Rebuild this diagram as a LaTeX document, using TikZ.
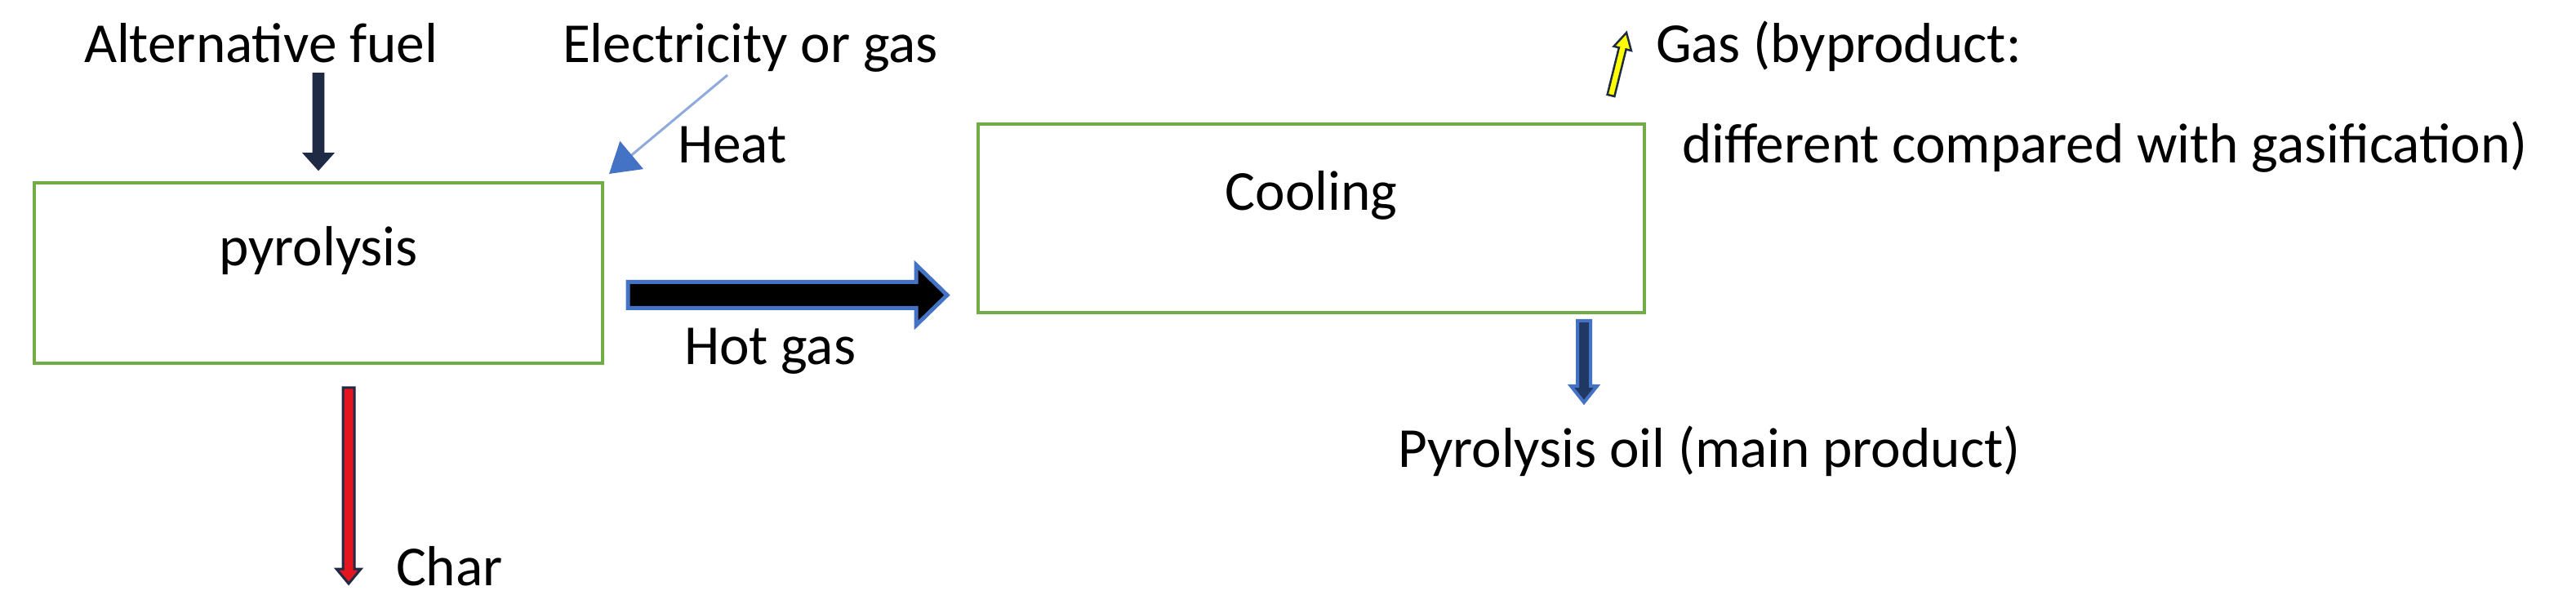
\documentclass[tikz,border=0pt]{standalone}
\usepackage{fontspec}
\setmainfont{Carlito}
\usetikzlibrary{calc,arrows.meta}
\definecolor{boxgreen}{HTML}{70AD47}
\definecolor{accblue}{HTML}{4472C4}
\definecolor{lightblue}{HTML}{8FAADC}
\definecolor{navyc}{HTML}{1F2A44}
\definecolor{darknavy}{HTML}{1F3864}
\definecolor{charred}{HTML}{E3161F}
\definecolor{gasyellow}{HTML}{FFFF00}
% #1 start, #2 tip, #3 shaft half width, #4 head half width, #5 head length, #6 style
\newcommand\BlkArrow[6]{%
  \coordinate (#1-hb) at ($(#2)!#5!(#1)$);
  \draw[#6] ($(#1)!#3!90:(#2)$) -- ($(#1-hb)!#3!90:(#2)$) -- ($(#1-hb)!#4!90:(#2)$)
    -- (#2) -- ($(#1-hb)!#4!-90:(#2)$) -- ($(#1-hb)!#3!-90:(#2)$) -- ($(#1)!#3!-90:(#2)$) -- cycle;
}
\tikzset{
  txt/.style={inner sep=0pt, outer sep=0pt, font=\fontsize{19.7}{23.6}\selectfont},
  procbox/.style={draw=boxgreen, line width=0.04cm, rectangle, inner sep=0pt},
}
\begin{document}
\begin{tikzpicture}
\fill[white] (0,0) rectangle (31.55,-7.51);
\useasboundingbox (0,0) rectangle (31.55,-7.51);

% boxes
\node[procbox, minimum width=6.96cm, minimum height=2.21cm] (pyro) at (3.90,-3.345) {};
\node[procbox, minimum width=8.16cm, minimum height=2.31cm] (cool) at (16.06,-2.675) {};
\node[txt, anchor=base] (pyrotxt) at ($(pyro.north)+(0,-1.04)$) {pyrolysis};
\node[txt, anchor=base] (cooltxt) at ($(cool.north)+(0,-1.08)$) {Cooling};

% labels
\node[txt, anchor=base west] (fuel) at (1.03,-0.77) {Alternative fuel};
\node[txt, anchor=base west] (elec) at (6.89,-0.77) {Electricity or gas};
\node[txt, anchor=base west] (heat) at (8.30,-2.00) {Heat};
\node[txt, anchor=base west] (hotgas) at (8.38,-4.47) {Hot gas};
\node[txt, anchor=base west] (char) at (4.85,-7.17) {Char};
\node[txt, anchor=base west] (gas1) at (20.28,-0.77) {Gas (byproduct:};
\node[txt, anchor=base west] (gas2) at (20.60,-2.00) {different compared with gasification)};
\node[txt, anchor=base west] (oil) at (17.12,-5.72) {Pyrolysis oil (main product)};

% arrow end points
\coordinate (fuelS) at (3.90,-0.90);  \coordinate (fuelT) at (3.90,-2.08);
\coordinate (hotS) at (7.69,-3.615);  \coordinate (hotT) at (11.60,-3.615);
\coordinate (charS) at (4.27,-4.75);  \coordinate (charT) at (4.27,-7.15);
\coordinate (gasS) at (19.73,-1.17);  \coordinate (gasT) at (19.92,-0.40);
\coordinate (oilS) at (19.40,-3.93);  \coordinate (oilT) at (19.40,-4.93);
\coordinate (heatS) at (8.91,-0.92);  \coordinate (heatT) at (7.46,-2.13);

\BlkArrow{fuelS}{fuelT}{0.065cm}{0.18cm}{0.20cm}{fill=navyc, draw=navyc, line width=0.5pt}
\BlkArrow{hotS}{hotT}{0.16cm}{0.37cm}{0.38cm}{fill=black, draw=accblue, line width=0.05cm}
\BlkArrow{charS}{charT}{0.07cm}{0.15cm}{0.18cm}{fill=charred, draw=navyc, line width=0.03cm}
\BlkArrow{gasS}{gasT}{0.045cm}{0.11cm}{0.20cm}{fill=gasyellow, draw=navyc, line width=0.025cm}
\BlkArrow{oilS}{oilT}{0.08cm}{0.16cm}{0.20cm}{fill=darknavy, draw=accblue, line width=0.04cm}

\draw[lightblue, line width=0.03cm, -{Triangle[length=0.36cm, width=0.44cm, color=accblue]}] (heatS) -- (heatT);
\end{tikzpicture}
\end{document}
